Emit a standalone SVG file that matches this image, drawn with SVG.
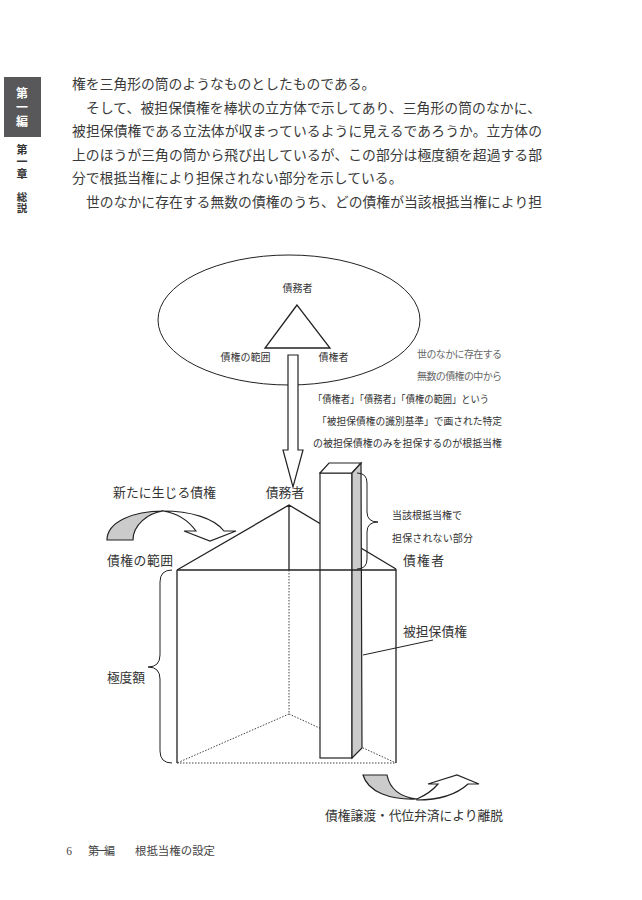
<svg xmlns="http://www.w3.org/2000/svg" width="642" height="900" viewBox="0 0 642 900">
<style>
text{font-family:"Noto Sans CJK JP","Noto Sans CJK SC",sans-serif;fill:#333}
.body{font-size:13.8px;fill:#3a3a3a}
.vert{writing-mode:vertical-rl;font-weight:bold}
.s10{font-size:10px}
.s13{font-size:12.8px}
.ln{fill:none;stroke:#222;stroke-width:1.3}
.dot{fill:none;stroke:#444;stroke-width:1;stroke-dasharray:1.5 1.5}
.wf{fill:#fff;stroke:#222;stroke-width:1.2;stroke-linejoin:miter}
.gf{fill:#cbcbcb;stroke:#222;stroke-width:1.2}
.thin{fill:none;stroke:#222;stroke-width:1}
</style>
<rect width="642" height="900" fill="#fff"/>
<g id="sidebar">
<rect x="4" y="77" width="37" height="60" fill="#58585a"/>
<text class="vert" x="22" y="87" style="font-size:12px;letter-spacing:2px;fill:#fff">第一編</text>
<text class="vert" x="22" y="144.5" style="font-size:11px;letter-spacing:1px">第一章</text>
<text class="vert" x="22" y="191.5" style="font-size:10.5px;letter-spacing:0.5px">総説</text>
</g>
<g id="body-text">
<text class="body" x="72" y="89">権を三角形の筒のようなものとしたものである。</text>
<text class="body" x="86" y="113" textLength="455" lengthAdjust="spacing">そして、被担保債権を棒状の立方体で示してあり、三角形の筒のなかに、</text>
<text class="body" x="72" y="136" textLength="470" lengthAdjust="spacing">被担保債権である立法体が収まっているように見えるであろうか。立方体の</text>
<text class="body" x="72" y="160" textLength="470" lengthAdjust="spacing">上のほうが三角の筒から飛び出しているが、この部分は極度額を超過する部</text>
<text class="body" x="72" y="183">分で根抵当権により担保されない部分を示している。</text>
<text class="body" x="86" y="207" textLength="456" lengthAdjust="spacing">世のなかに存在する無数の債権のうち、どの債権が当該根抵当権により担</text>
</g>
<g id="universe">
<ellipse cx="289" cy="320" rx="131" ry="65" class="thin"/>
<polygon points="297,305 265,348 330,348" class="ln"/>
<text class="s10" x="297.5" y="292" text-anchor="middle">債務者</text>
<text class="s10" x="245.5" y="361" text-anchor="middle">債権の範囲</text>
<text class="s10" x="333.5" y="361" text-anchor="middle">債権者</text>
</g>
<g id="explanation">
<text class="s10" x="417" y="358" textLength="85" style="fill:#666">世のなかに存在する</text>
<text class="s10" x="417" y="380" textLength="85" style="fill:#666">無数の債権の中から</text>
<text class="s10" x="313" y="403" textLength="176" lengthAdjust="spacingAndGlyphs">「債権者」「債務者」「債権の範囲」という</text>
<text class="s10" x="317" y="425" textLength="185" lengthAdjust="spacingAndGlyphs">「被担保債権の識別基準」で画された特定</text>
<text class="s10" x="313" y="447" textLength="189" lengthAdjust="spacingAndGlyphs">の被担保債権のみを担保するのが根抵当権</text>
</g>
<g id="prism">
<path class="dot" d="M289,570 V714 M289,714 L177,763 M289,714 L396,763 M177,763 H396"/>
<path class="ln" d="M177,570 V763 M396,569 V763 M177,570 L289,505 L396,569 M289,505 V570"/>
</g>
<g id="bar">
<rect x="320" y="473" width="32" height="285" class="wf"/>
<polygon points="320,473 352,473 361,463 329,463" class="wf"/>
<polygon points="352,473 361,463 362,748 352,758" class="gf"/>
</g>
<path class="ln" d="M177,570 H396"/>
<g id="connectors">
<path d="M288,355 L298,355 L298,450 L303,450 L293,487 L283,450 L288,450 Z" class="wf"/>
<path class="thin" d="M357,473 Q367,473 367,483 L367,512 Q367,522 378,522 Q367,522 367,532 L367,559 Q367,569 357,569"/>
<path class="thin" d="M172,570 Q160,570 160,582 L160,655 Q160,667 148,667 Q160,667 160,679 L160,751 Q160,763 172,763"/>
<path class="thin" d="M363,655 L433,640"/>
<path class="gf" d="M107,540 C107,522 133,511 163,511 C148,513 133,525 133,540 Z"/>
<path class="wf" d="M163,511 C190,511 214,518 224,531 L236,531 L210,541 L184,531 L196,531 C188,520 176,513 163,511 Z"/>
<path class="gf" d="M363,775 L387,775 C390,790 400,797 417,799 C390,800 368,792 363,775 Z"/>
<path class="wf" d="M417,799 C426,795 433,790 438,784 L428,784 L457,775 L479,784 L468,784 C456,795 438,800 417,800 Z"/>
</g>
<g id="labels">
<text class="s13" x="113" y="497" textLength="103">新たに生じる債権</text>
<text class="s13" x="285" y="497" text-anchor="middle">債務者</text>
<text class="s13" x="107" y="565" textLength="66">債権の範囲</text>
<text class="s13" x="403" y="565" textLength="41">債権者</text>
<text class="s13" x="403" y="636" textLength="64">被担保債権</text>
<text class="s13" x="107" y="682" textLength="38">極度額</text>
<text class="s10" x="392" y="519" textLength="70">当該根抵当権で</text>
<text class="s10" x="392" y="542" textLength="81">担保されない部分</text>
<text class="s13" x="325" y="820" textLength="178">債権譲渡・代位弁済により離脱</text>
</g>
<g id="footer">
<text x="69" y="855" text-anchor="middle" style="font-size:11.5px;fill:#444;font-family:'Liberation Serif',serif">6</text>
<text x="88" y="855" textLength="27" style="font-size:11px;fill:#444">第一編</text>
<text x="135" y="855" textLength="80" style="font-size:11.4px;fill:#444">根抵当権の設定</text>
</g>
</svg>
